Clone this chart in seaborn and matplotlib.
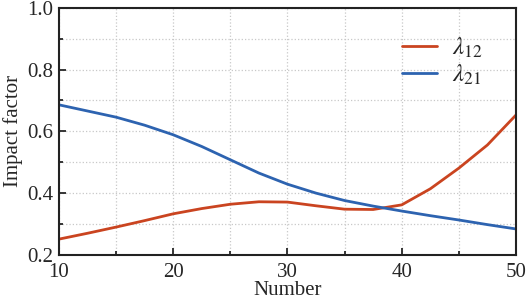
import numpy as np
import pandas as pd
import seaborn as sns
import matplotlib.pyplot as plt
from matplotlib.ticker import MultipleLocator

number = [10, 12.5, 15, 17.5, 20, 22.5, 25, 27.5, 30, 32.5, 35, 37.5, 40, 42.5, 45, 47.5, 50]
lambda_12 = [0.251, 0.270, 0.290, 0.311, 0.333, 0.350, 0.364, 0.372, 0.371, 0.359,
             0.348, 0.347, 0.362, 0.414, 0.481, 0.556, 0.653]
lambda_21 = [0.686, 0.666, 0.646, 0.620, 0.589, 0.551, 0.508, 0.465, 0.429, 0.400,
             0.376, 0.358, 0.342, 0.327, 0.313, 0.298, 0.284]

df = pd.DataFrame({"Number": number, "l12": lambda_12, "l21": lambda_21})

sns.set_style("ticks")
plt.rcParams["font.family"] = ["Liberation Serif", "DejaVu Serif"]
plt.rcParams["mathtext.fontset"] = "stix"

fig = plt.figure(figsize=(5.26, 3.02), dpi=100)
ax = fig.add_axes([0.112, 0.156, 0.869, 0.818])

sns.lineplot(data=df, x="Number", y="l12", ax=ax, color="#CA4420", lw=2,
             label=r"$\lambda_{12}$")
sns.lineplot(data=df, x="Number", y="l21", ax=ax, color="#2D63B0", lw=2,
             label=r"$\lambda_{21}$")

ax.set_xlim(10, 50)
ax.set_ylim(0.2, 1.0)
ax.xaxis.set_major_locator(MultipleLocator(10))
ax.xaxis.set_minor_locator(MultipleLocator(5))
ax.yaxis.set_major_locator(MultipleLocator(0.2))
ax.yaxis.set_minor_locator(MultipleLocator(0.1))
ax.grid(which="both", color="#c8c8c8", ls=":", lw=0.9)

ax.tick_params(which="major", direction="in", length=5, width=1.3, labelsize=15, pad=4)
ax.tick_params(axis="x", which="major", pad=6)
ax.tick_params(which="minor", direction="in", length=3, width=1.3)
for s in ax.spines.values():
    s.set_linewidth(1.5)
    s.set_color("#222222")

ax.set_xlabel("Number", fontsize=15, labelpad=-1)
ax.set_ylabel("Impact factor", fontsize=15, labelpad=3)

ax.legend(loc="upper left", bbox_to_anchor=(0.729, 0.927), borderaxespad=0,
          frameon=False, fontsize=18, handlelength=1.4, handletextpad=0.6,
          labelspacing=0.12)

fig.savefig("out.png", dpi=100)
